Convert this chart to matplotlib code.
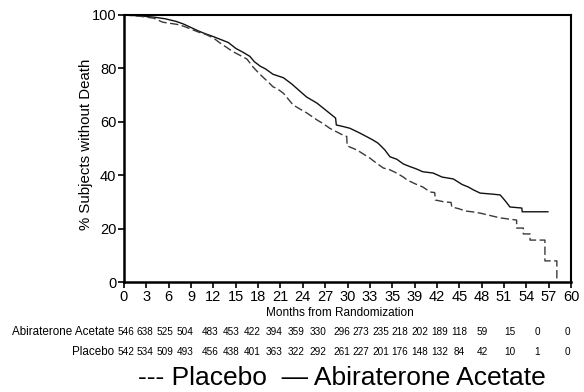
import matplotlib
matplotlib.use("Agg")
import matplotlib.pyplot as plt
import matplotlib.transforms as mtransforms

# ---------------- data ----------------
abi_t = [0, 2, 4, 5.5, 7, 8, 9, 10, 11, 12, 13, 14, 15, 16, 16.9, 17.5, 18.3, 19, 20, 21.4,
         22.5, 23.6, 24.5, 25.9, 26.8, 27.6, 28.4, 28.5, 29.3, 30.3, 31.5, 32.6, 33.4, 34.1,
         35, 35.7, 36.6, 37.5, 38.4, 39.2, 40.1, 41.5, 42.7, 44.2, 45.4, 46.2, 46.9, 47.8,
         49.5, 50.5, 51.2, 51.8, 53.4, 53.45, 56.9]
abi_s = [100, 99.7, 99.2, 98.6, 97.6, 96.6, 95.3, 94.0, 92.9, 91.9, 90.8, 89.7, 87.5, 86.0,
         84.5, 82.5, 80.8, 79.8, 77.8, 76.5, 74.2, 71.5, 69.3, 67.0, 65.0, 63.2, 61.4, 58.8,
         58.3, 57.6, 56.0, 54.4, 53.2, 52.0, 49.5, 46.9, 46.0, 44.2, 43.2, 42.4, 41.3, 40.8,
         39.3, 38.6, 36.5, 35.6, 34.5, 33.3, 32.9, 32.6, 30.3, 28.1, 27.7, 26.3, 26.3]

pla_t = [0, 2, 4, 5.2, 7.1, 8, 9, 10, 11, 12, 12.9, 13.7, 14.6, 15.5, 16.5, 17.3, 18, 18.7,
         19.4, 20, 20.5, 21.4, 22.7, 23.6, 24.6, 25.9, 26.8, 27.6, 28.5, 29.4, 29.9, 29.95,
         31.3, 32.2, 33.0, 33.9, 34.8, 35.7, 36.6, 37.5, 38.0, 39.3, 40.1, 41.1, 41.7, 41.8,
         43.0, 43.9, 44.0, 45.0, 45.8, 47.0, 47.8, 49.0, 50.5, 52.7, 52.7, 53.6, 53.6, 54.5,
         54.5, 56.5, 56.5, 58.1, 58.1]
pla_s = [100, 99.6, 98.8, 97.3, 96.5, 95.8, 94.7, 93.6, 92.7, 91.4, 89.5, 88.0, 86.3, 85.0,
         83.5, 80.6, 78.5, 76.6, 74.8, 73.1, 72.5, 70.7, 66.3, 64.8, 63.2, 60.7, 59.2, 57.6,
         56.3, 55.0, 54.5, 51.0, 49.4, 47.8, 46.4, 44.5, 42.7, 42.0, 40.8, 39.3, 38.2, 36.5,
         35.6, 33.7, 33.5, 30.7, 30.0, 29.8, 28.1, 27.4, 26.6, 26.2, 25.8, 25.0, 24.0, 23.2,
         20.2, 20.2, 18.0, 18.0, 15.7, 15.7, 7.9, 7.9, 0.0]

x_ticks = list(range(0, 61, 3))
x_ticklabels = ["0", "3", "6", "9", "12", "15", "18", "21", "24", "27", "30", "33", "35",
                "39", "42", "45", "48", "51", "54", "57", "60"]
y_ticks = [0, 20, 40, 60, 80, 100]

risk_labels = ["Abiraterone Acetate", "Placebo"]
risk_abi = ["546", "638", "525", "504", "483", "453", "422", "394", "359", "330", "296", "273",
            "235", "218", "202", "189", "118", "59", "15", "0", "0"]
risk_pla = ["542", "534", "509", "493", "456", "438", "401", "363", "322", "292", "261", "227",
            "201", "176", "148", "132", "84", "42", "10", "1", "0"]
# horizontal placement of the at-risk columns (months on the x scale)
risk_pos = [0.3, 2.82, 5.5, 8.19, 11.54, 14.36, 17.18, 20.13, 23.09, 26.04, 29.26, 31.81,
            34.5, 37.05, 39.73, 42.42, 44.97, 48.05, 51.81, 55.44, 59.46]

# ---------------- figure ----------------
W, H = 584, 392
fig = plt.figure(figsize=(W / 100, H / 100), dpi=100)
fig.patch.set_facecolor("white")
ax = fig.add_axes([124 / W, 1 - 282 / H, (571 - 124) / W, (282 - 15) / H])

ax.plot(abi_t, abi_s, color="#111111", lw=1.0)
ax.plot(pla_t, pla_s, color="#3a3a3a", lw=1.0, linestyle=(0, (6, 2.5)))

ax.set_xlim(0, 60)
ax.set_ylim(0, 100)
regular = ["Liberation Sans", "DejaVu Sans"]
ax.set_xticks(x_ticks)
ax.set_xticklabels(x_ticklabels, family=regular, fontsize=10.5)
ax.set_yticks(y_ticks)
ax.set_yticklabels([str(v) for v in y_ticks], family=regular, fontsize=10.5)
ax.tick_params(axis="both", direction="out", length=4, width=1.2, pad=1.5, color="black")
for side in ["left", "bottom"]:
    ax.spines[side].set_linewidth(1.8)
for side in ["top", "right"]:
    ax.spines[side].set_linewidth(1.5)

ax.set_ylabel("% Subjects without Death", family=regular, fontsize=10.8)
ax.yaxis.set_label_coords((93 - 124) / 447, (282 - 144) / 267)

fig.text(340 / W, 1 - 313 / H, "Months from Randomization", family=regular,
         fontsize=8.5, ha="center", va="center")

trans = mtransforms.blended_transform_factory(ax.transData, fig.transFigure)
row_y = [1 - 332 / H, 1 - 352 / H]
for lab, counts, yy in zip(risk_labels, [risk_abi, risk_pla], row_y):
    fig.text(114 / W, yy, lab, family=regular, fontsize=8.4, ha="right", va="center")
    for xp, c in zip(risk_pos, counts):
        ax.text(xp, yy, c, transform=trans, family=regular, fontsize=7.2,
                ha="center", va="center", clip_on=False)

fig.text(342 / W, 1 - 378 / H, "--- Placebo  \u2014 Abiraterone Acetate", family=regular,
         fontsize=19, ha="center", va="center")

fig.savefig("out.png", dpi=100)
